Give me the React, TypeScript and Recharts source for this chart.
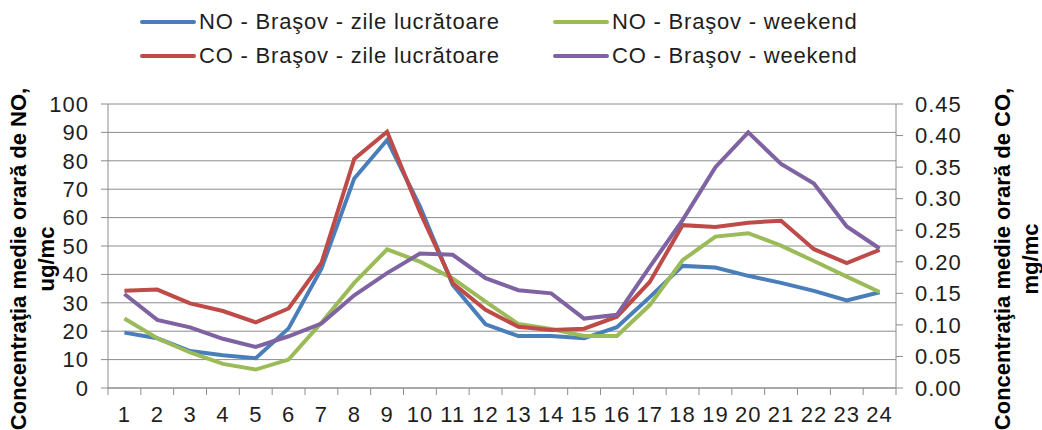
import React from 'react';
import { ComposedChart, Line, XAxis, YAxis, CartesianGrid } from 'recharts';

const HOURS = ['1', '2', '3', '4', '5', '6', '7', '8', '9', '10', '11', '12', '13', '14', '15', '16', '17', '18', '19', '20', '21', '22', '23', '24'];

// NO, ug/mc (left axis)
const NO_WORKDAYS = [19.5, 17.5, 13, 11.5, 10.5, 21, 42, 73.8, 87.3, 64, 36.3, 22.4, 18.3, 18.3, 17.5, 21.4, 32, 43, 42.4, 39.5, 37, 34.2, 30.8, 33.7];
const NO_WEEKEND = [24.5, 17.5, 12.5, 8.5, 6.5, 10, 23, 37, 48.8, 44.5, 38.6, 30.4, 22.5, 20.8, 18.3, 18.3, 29.2, 45, 53.3, 54.5, 50.1, 44.7, 39.2, 33.8];

// CO, mg/mc (right axis)
const CO_WORKDAYS = [0.154, 0.156, 0.134, 0.122, 0.104, 0.126, 0.198, 0.363, 0.406, 0.279, 0.166, 0.124, 0.097, 0.092, 0.094, 0.113, 0.168, 0.258, 0.255, 0.262, 0.265, 0.22, 0.198, 0.219];
const CO_WEEKEND = [0.149, 0.108, 0.096, 0.078, 0.065, 0.082, 0.102, 0.147, 0.182, 0.213, 0.211, 0.174, 0.155, 0.15, 0.11, 0.116, 0.192, 0.266, 0.35, 0.405, 0.355, 0.324, 0.256, 0.221];

const NO_TICKS = [0, 10, 20, 30, 40, 50, 60, 70, 80, 90, 100];
const CO_TICKS = [0, 0.05, 0.1, 0.15, 0.2, 0.25, 0.3, 0.35, 0.4, 0.45];

const data = HOURS.map((h, i) => ({
  hour: h,
  noWork: NO_WORKDAYS[i],
  noWeekend: NO_WEEKEND[i],
  coWork: CO_WORKDAYS[i],
  coWeekend: CO_WEEKEND[i],
}));

const W = 1042;
const H = 430;
const LEFT_W = 108;
const RIGHT_W = 146;
const BAND = (W - LEFT_W - RIGHT_W) / HOURS.length;
const FONT = '"Liberation Sans", Arial, sans-serif';
const GRID = '#8c8c8c';
const TEXT = '#1e1e1e';

const COLORS = {
  noWork: '#4A7EBB',
  noWeekend: '#9BBB59',
  coWork: '#BE4B48',
  coWeekend: '#7F62A1',
};

const LEGEND = [
  { key: 'noWork', label: 'NO - Braşov - zile lucrătoare', col: 0, row: 0 },
  { key: 'noWeekend', label: 'NO - Braşov - weekend', col: 1, row: 0 },
  { key: 'coWork', label: 'CO - Braşov - zile lucrătoare', col: 0, row: 1 },
  { key: 'coWeekend', label: 'CO - Braşov - weekend', col: 1, row: 1 },
];

const tickStyle = { fontSize: 22, fill: TEXT, fontFamily: FONT, letterSpacing: 1 };

// category labels with Excel style tick marks between categories
const HourTick = ({ x, y, payload, index }: any) => (
  <g>
    <line x1={x - BAND / 2} x2={x - BAND / 2} y1={y} y2={y + 7} stroke={GRID} />
    {index === HOURS.length - 1 && (
      <line x1={x + BAND / 2} x2={x + BAND / 2} y1={y} y2={y + 7} stroke={GRID} />
    )}
    <text x={x} y={y + 34} textAnchor="middle" {...tickStyle}>
      {payload.value}
    </text>
  </g>
);

const AxisTitle = ({ x, cy, first, second }: { x: number; cy: number; first: string; second: string }) => (
  <g fontFamily={FONT} fontWeight={700} fontSize={22} fill="#000">
    <text x={x} y={cy} textAnchor="middle" transform={`rotate(-90 ${x} ${cy})`}>
      {first}
    </text>
    <text x={x + 28} y={cy} textAnchor="middle" transform={`rotate(-90 ${x + 28} ${cy})`}>
      {second}
    </text>
  </g>
);

export default function App() {
  return (
    <div style={{ position: 'absolute', left: 0, top: 0, width: W, height: H, background: '#fff', overflow: 'hidden' }}>
      <div style={{ position: 'absolute', left: 0, top: 0, width: W, height: 80, fontFamily: FONT, fontSize: 22, color: TEXT, letterSpacing: 0.8 }}>
        {LEGEND.map((l) => (
          <div
            key={l.key}
            style={{
              position: 'absolute',
              left: l.col === 0 ? 140 : 553,
              top: l.row === 0 ? 8 : 42,
              display: 'flex',
              alignItems: 'center',
              whiteSpace: 'nowrap',
              height: 28,
            }}
          >
            <span style={{ display: 'inline-block', width: 56, height: 4, borderRadius: 2, background: COLORS[l.key as keyof typeof COLORS], marginRight: 3 }} />
            <span>{l.label}</span>
          </div>
        ))}
      </div>
      <ComposedChart width={W} height={H} data={data} margin={{ top: 104, right: 0, bottom: 0, left: 0 }} style={{ position: 'absolute', left: 0, top: 0 }}>
        <CartesianGrid yAxisId="no" vertical={false} stroke={GRID} strokeWidth={1} />
        <XAxis
          dataKey="hour"
          height={42}
          interval={0}
          padding={{ left: BAND / 2, right: BAND / 2 }}
          tickLine={false}
          tickSize={0}
          tickMargin={0}
          stroke={GRID}
          tick={<HourTick />}
        />
        <YAxis
          yAxisId="no"
          width={LEFT_W}
          domain={[0, 100]}
          ticks={NO_TICKS}
          interval={0}
          tickSize={7}
          tickMargin={12}
          stroke={GRID}
          tick={tickStyle}
        />
        <YAxis
          yAxisId="co"
          orientation="right"
          width={RIGHT_W}
          domain={[0, 0.45]}
          ticks={CO_TICKS}
          interval={0}
          tickSize={7}
          tickMargin={12}
          stroke={GRID}
          tickFormatter={(v: number) => v.toFixed(2)}
          tick={tickStyle}
        />
        <Line yAxisId="no" type="linear" dataKey="noWork" stroke={COLORS.noWork} strokeWidth={4} dot={false} isAnimationActive={false} />
        <Line yAxisId="no" type="linear" dataKey="noWeekend" stroke={COLORS.noWeekend} strokeWidth={4} dot={false} isAnimationActive={false} />
        <Line yAxisId="co" type="linear" dataKey="coWork" stroke={COLORS.coWork} strokeWidth={4} dot={false} isAnimationActive={false} />
        <Line yAxisId="co" type="linear" dataKey="coWeekend" stroke={COLORS.coWeekend} strokeWidth={4} dot={false} isAnimationActive={false} />
        <AxisTitle x={26} cy={259} first="Concentraţia medie orară de NO," second="ug/mc" />
        <AxisTitle x={1010} cy={259} first="Concentraţia medie orară de CO," second="mg/mc" />
      </ComposedChart>
    </div>
  );
}
